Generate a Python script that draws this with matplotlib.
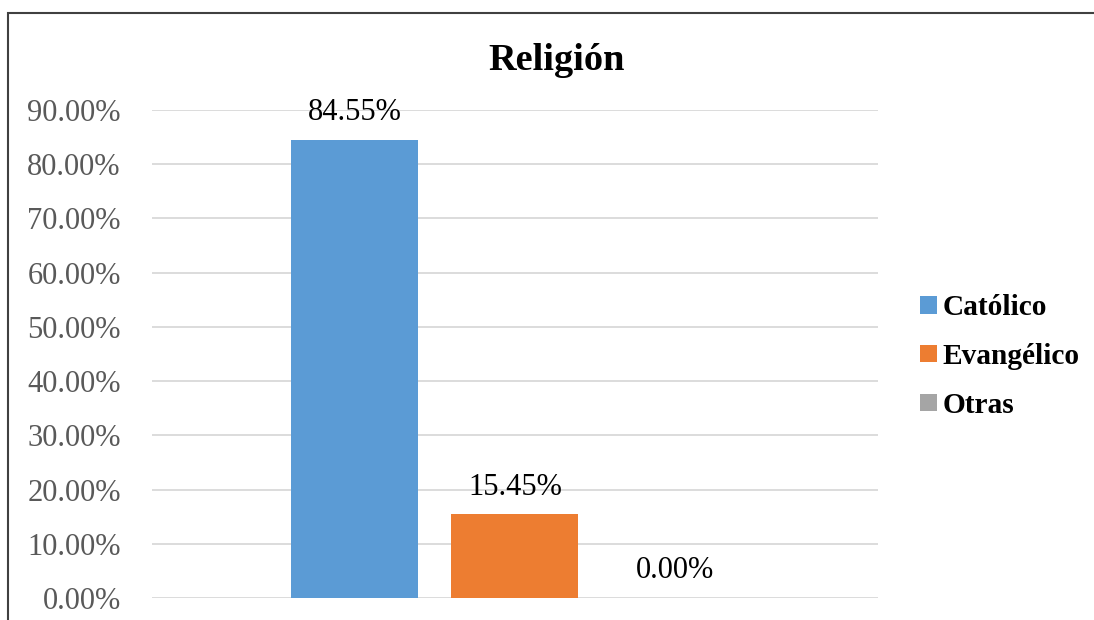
import numpy as np
import matplotlib
matplotlib.use('Agg')
from matplotlib import pyplot as plt
from matplotlib.patches import Patch, Rectangle

series = ['Católico', 'Evangélico', 'Otras']
values = [84.55, 15.45, 0.00]
colors = ['#5B9BD5', '#ED7D31', '#A5A5A5']
yticks = [0, 10, 20, 30, 40, 50, 60, 70, 80, 90]

plt.rcParams['font.family'] = ['Liberation Serif', 'DejaVu Serif']

fig = plt.figure(figsize=(10.94, 6.2), dpi=100)
ax = fig.add_axes([0.1389, 0.0355, 0.6636, 0.787])

pos = np.arange(len(series)) - 1
bars = ax.bar(pos, values, width=0.794, color=colors, zorder=3)
ax.set_xlim(-2.269, 2.269)
ax.set_ylim(0, 90)

for b, v in zip(bars, values):
    ax.annotate('%.2f%%' % v, (b.get_x() + b.get_width() / 2, v),
                xytext=(0, 9), textcoords='offset points',
                ha='center', va='bottom', fontsize=22, color='black')

ax.set_yticks(yticks)
ax.set_yticklabels(['%.2f%%' % t for t in yticks], fontsize=22, color='#595959')
ax.set_xticks([])
ax.tick_params(axis='y', length=0, pad=22.5)
ax.grid(axis='y', color='#d9d9d9', linewidth=1.3, zorder=0)
for s in ax.spines.values():
    s.set_visible(False)

fig.text(0.509, 0.902, 'Religión', ha='center', va='center',
         fontsize=27.6, fontweight='bold')

handles = [Patch(facecolor=c, label=s) for s, c in zip(series, colors)]
fig.legend(handles=handles, loc='center left', bbox_to_anchor=(0.8305, 0.425),
           frameon=False, prop={'size': 21.2, 'weight': 'bold'},
           handlelength=0.55, handleheight=0.55, handletextpad=0.2,
           labelspacing=0.74, borderaxespad=0)

fig.patches.append(Rectangle((8 / 1094, -0.1), 1.2, 1 - 13 / 620 + 0.1,
                             transform=fig.transFigure, fill=False,
                             edgecolor='#404040', linewidth=1.5))

plt.savefig('out.png', dpi=100)
